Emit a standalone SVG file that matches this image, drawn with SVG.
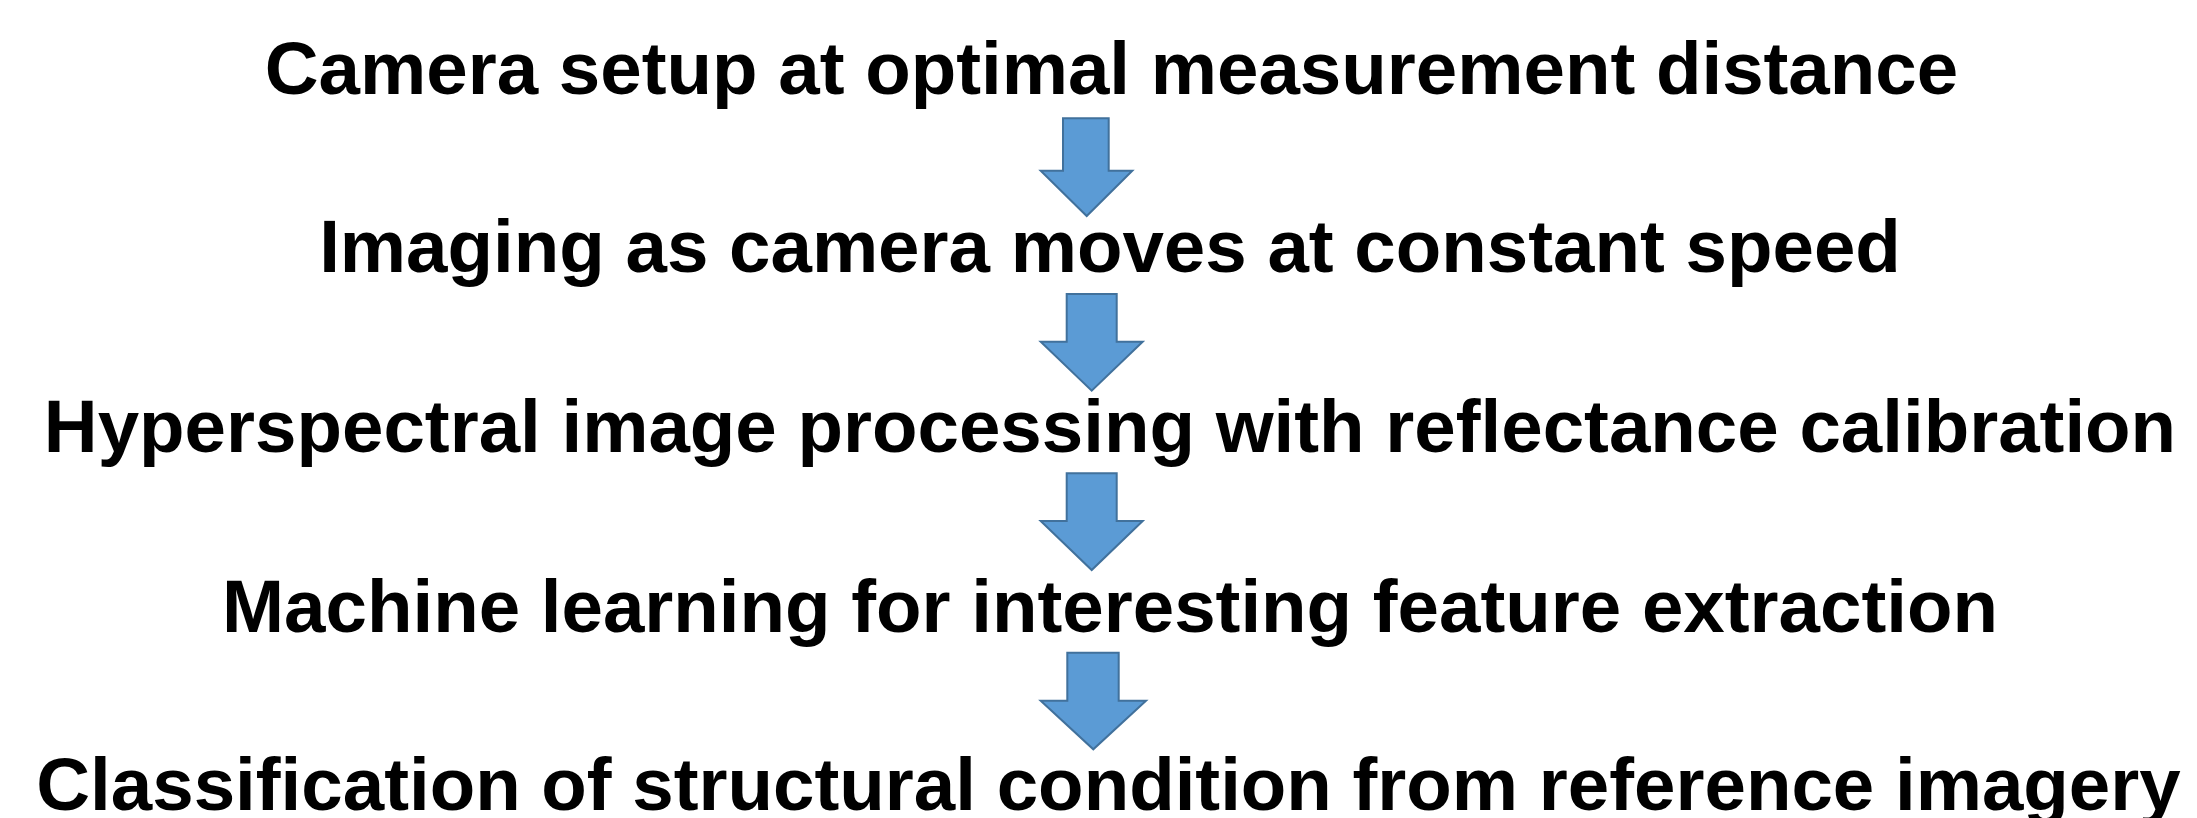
<svg xmlns="http://www.w3.org/2000/svg" width="2197" height="818" viewBox="0 0 2197 818">
<style>
.t{font-family:"Liberation Sans",Arial,sans-serif;font-weight:bold;font-size:74.5px;fill:#000;text-anchor:middle}
.a{fill:#5B9BD5;stroke:#41719C;stroke-width:2;stroke-linejoin:miter}
</style>
<rect width="2197" height="818" fill="#fff"/>
<g id="n1"><text class="t" x="1111.5" y="94">Camera setup at optimal measurement distance</text></g>
<g id="n2"><text class="t" x="1110" y="272.3">Imaging as camera moves at constant speed</text></g>
<g id="n3"><text class="t" x="1110" y="451.7">Hyperspectral image processing with reflectance calibration</text></g>
<g id="n4"><text class="t" x="1110" y="631.7">Machine learning for interesting feature extraction</text></g>
<g id="n5"><text class="t" x="1108.5" y="810">Classification of structural condition from reference imagery</text></g>
<g id="connectors">
<polygon class="a" points="1063,118.3 1108.7,118.3 1108.7,170.7 1132.3,170.7 1086.7,216 1040.7,170.7 1063,170.7"/>
<polygon class="a" points="1066.7,294 1116.7,294 1116.7,341.7 1142.7,341.7 1091.7,390.7 1040.7,341.7 1066.7,341.7"/>
<polygon class="a" points="1066.7,473.3 1116.7,473.3 1116.7,521 1142.7,521 1091.7,570 1040.7,521 1066.7,521"/>
<polygon class="a" points="1067.3,652.7 1118.7,652.7 1118.7,700.7 1146,700.7 1093.3,749.3 1040.7,700.7 1067.3,700.7"/>
</g>
</svg>
